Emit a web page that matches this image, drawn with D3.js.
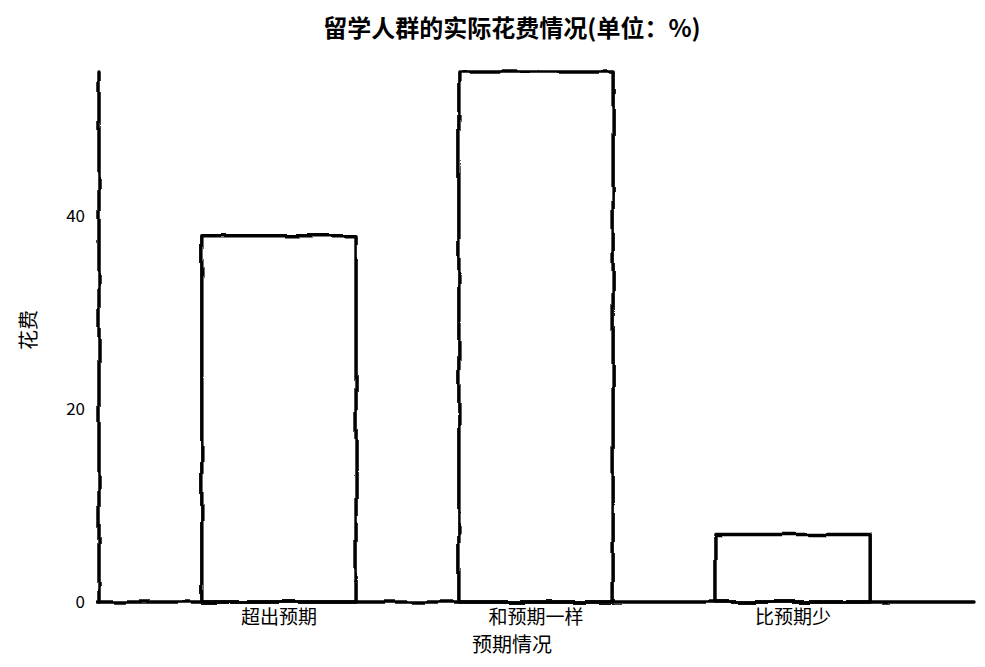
<!DOCTYPE html>
<html>
<head>
<meta charset="utf-8">
<script src="https://cdn.jsdelivr.net/npm/d3@7"></script>
<style>
  body { margin: 0; background: #fff; }
  text { font-family: "Noto Sans CJK SC", "DejaVu Sans", sans-serif; fill: #000; }
</style>
</head>
<body>
<div id="chart"></div>
<script>
// data
const categories = ['超出预期', '和预期一样', '比预期少'];
const values = [38, 55, 7];
const yTicks = [0, 20, 40];

const width = 985, height = 667;
const mLeft = 99, mRight = 973, mTop = 72, mBottom = 602;

const svg = d3.select('#chart').append('svg')
  .attr('width', width)
  .attr('height', height);

// hand drawn wobble for the lines
const defs = svg.append('defs');
const flt = defs.append('filter')
  .attr('id', 'xkcd')
  .attr('filterUnits', 'userSpaceOnUse')
  .attr('x', 0).attr('y', 0)
  .attr('width', width).attr('height', height);
flt.append('feTurbulence')
  .attr('type', 'fractalNoise')
  .attr('baseFrequency', 0.03)
  .attr('numOctaves', 2)
  .attr('seed', 3)
  .attr('result', 'noise');
flt.append('feDisplacementMap')
  .attr('in', 'SourceGraphic')
  .attr('in2', 'noise')
  .attr('scale', 4.5)
  .attr('xChannelSelector', 'R')
  .attr('yChannelSelector', 'G');

const x = d3.scaleBand()
  .domain(categories)
  .range([mLeft, mRight])
  .paddingInner(0.4)
  .paddingOuter(0.4);

const y = d3.scaleLinear()
  .domain([0, d3.max(values)])
  .range([mBottom, mTop]);

const lines = svg.append('g').attr('filter', 'url(#xkcd)');

lines.selectAll('.bar')
  .data(values)
  .enter().append('rect')
  .attr('class', 'bar')
  .attr('x', (d, i) => x(categories[i]))
  .attr('y', d => y(d))
  .attr('width', x.bandwidth())
  .attr('height', d => mBottom - y(d))
  .attr('fill', '#fff')
  .attr('stroke', '#000')
  .attr('stroke-width', 3.5)
  .attr('stroke-linejoin', 'round');

// axes
const axisL = svg.append('g')
  .attr('transform', 'translate(' + mLeft + ',0)')
  .call(d3.axisLeft(y).tickValues(yTicks).tickSize(0).tickPadding(14).tickFormat(d3.format('d')));
axisL.select('.domain').remove();
axisL.selectAll('text').attr('font-size', 17).attr('font-family', '"DejaVu Sans", sans-serif');

const axisB = svg.append('g')
  .attr('transform', 'translate(0,' + mBottom + ')')
  .call(d3.axisBottom(x).tickSize(0).tickPadding(9));
axisB.select('.domain').remove();
axisB.selectAll('text').attr('font-size', 19);

// spines drawn inside the wobble group
lines.append('line')
  .attr('x1', mLeft).attr('x2', mLeft)
  .attr('y1', y(d3.max(values))).attr('y2', mBottom)
  .attr('stroke', '#000').attr('stroke-width', 3.5).attr('stroke-linecap', 'round');
lines.append('line')
  .attr('x1', mLeft - 2).attr('x2', mRight)
  .attr('y1', mBottom).attr('y2', mBottom)
  .attr('stroke', '#000').attr('stroke-width', 3.5).attr('stroke-linecap', 'round');

// titles
svg.append('text')
  .attr('x', 512).attr('y', 37)
  .attr('text-anchor', 'middle')
  .attr('font-size', 24)
  .attr('font-weight', 'bold')
  .text('留学人群的实际花费情况(单位：%)');

svg.append('text')
  .attr('x', 512).attr('y', 652)
  .attr('text-anchor', 'middle')
  .attr('font-size', 20)
  .text('预期情况');

svg.append('text')
  .attr('transform', 'translate(36,330) rotate(-90)')
  .attr('text-anchor', 'middle')
  .attr('font-size', 20)
  .text('花费');
</script>
</body>
</html>
